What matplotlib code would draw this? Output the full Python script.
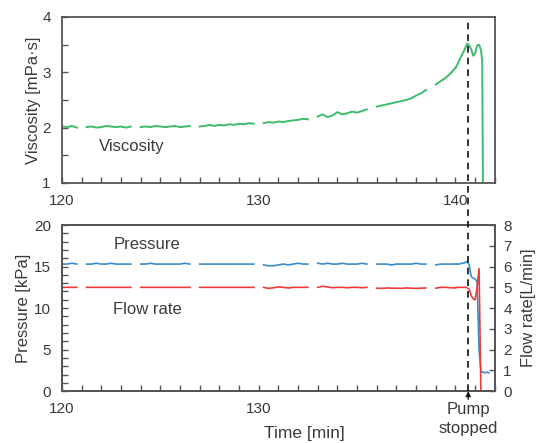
import numpy as np
import matplotlib
matplotlib.use("Agg")
import matplotlib.pyplot as plt
from matplotlib.lines import Line2D
from matplotlib.transforms import blended_transform_factory
from matplotlib.ticker import MultipleLocator

plt.rcParams['font.family'] = ['Liberation Sans', 'DejaVu Sans']

# ---- data (main segment, 0.25 min step from 120 to 140; None = data gap)
time_main = np.arange(120.0, 140.001, 0.25)
visc_main = [2.02, 2.01, 2.03, 2.00, None, 2.01, 2.02, 2.00, 2.01, 2.03,
             2.02, 2.01, 2.02, 2.00, 2.02, None, 2.01, 2.02, 2.01, 2.03,
             2.02, 2.01, 2.02, 2.03, 2.01, 2.02, 2.03, None, 2.02, 2.03,
             2.05, 2.03, 2.05, 2.04, 2.06, 2.05, 2.07, 2.06, 2.08, 2.07,
             None, 2.08, 2.10, 2.09, 2.11, 2.10, 2.12, 2.13, 2.14, 2.16,
             2.15, None, 2.20, 2.24, 2.19, 2.22, 2.28, 2.24, 2.26, 2.29,
             2.27, 2.30, 2.33, None, 2.38, 2.40, 2.42, 2.44, 2.46, 2.48,
             2.50, 2.53, 2.58, 2.62, 2.68, None, 2.78, 2.84, 2.90, 2.98,
             3.08]
pres_main = [15.3, 15.3, 15.4, 15.3, None, 15.3, 15.3, 15.4, 15.3, 15.3,
             15.4, 15.3, 15.3, 15.3, 15.3, None, 15.3, 15.3, 15.4, 15.3,
             15.3, 15.3, 15.3, 15.3, 15.3, 15.4, 15.3, None, 15.3, 15.3,
             15.3, 15.3, 15.3, 15.3, 15.3, 15.3, 15.3, 15.3, 15.3, 15.3,
             None, 15.2, 15.1, 15.1, 15.2, 15.3, 15.2, 15.3, 15.4, 15.3,
             15.3, None, 15.4, 15.3, 15.4, 15.3, 15.3, 15.4, 15.3, 15.3,
             15.3, 15.4, 15.3, None, 15.3, 15.3, 15.3, 15.2, 15.3, 15.3,
             15.3, 15.3, 15.4, 15.3, 15.3, None, 15.2, 15.3, 15.3, 15.3,
             15.3]
flow_main = [5.0, 5.0, 5.0, 5.0, None, 5.0, 5.0, 5.0, 5.0, 5.0,
             5.0, 5.0, 5.0, 5.0, 5.0, None, 5.0, 5.0, 5.0, 5.0,
             5.0, 5.0, 5.0, 5.0, 5.0, 5.0, 5.0, None, 5.0, 5.0,
             5.0, 5.0, 5.0, 5.0, 5.0, 5.0, 5.0, 5.0, 5.0, 5.0,
             None, 5.0, 4.95, 4.98, 5.02, 5.0, 4.97, 5.0, 5.0, 5.0,
             5.0, None, 5.0, 5.05, 5.02, 4.98, 5.0, 5.0, 4.98, 5.0,
             5.0, 4.98, 5.0, None, 4.96, 4.95, 4.97, 4.96, 4.96, 4.95,
             4.97, 4.96, 4.95, 4.96, 4.97, None, 4.96, 5.0, 5.0, 4.98,
             4.98]

# ---- data (transient segment near pump stop)
time_end = [140.0, 140.1, 140.2, 140.3, 140.4, 140.5, 140.6, 140.7, 140.8,
            140.9, 141.0, 141.1, 141.2, 141.3, 141.36, 141.4, 141.5, 141.6, 141.7]
visc_end = [3.08, 3.14, 3.22, 3.30, 3.36, 3.44, 3.52, 3.48, 3.42,
            3.30, 3.34, 3.48, 3.50, 3.40, 3.20, 0.8, None, None, None]
pres_end = [15.3, 15.3, 15.3, 15.4, 15.4, 15.5, 15.6, 15.2, 13.8,
            13.6, 13.5, 13.2, 5.0, 2.4, 2.3, 2.3, 2.2, 2.3, 2.2]
flow_end = [4.98, 5.0, 5.0, 5.0, 5.0, 5.0, 4.98, 4.9, 4.6,
            4.45, 4.4, 5.0, 5.9, -0.5, None, None, None, None, None]

pump_stop_time = 140.65

def arr(v):
    return np.array([np.nan if x is None else x for x in v], dtype=float)

GREEN = '#3dbb6e'
BLUE = '#3a8ccc'
RED = '#f03a3a'
TXT = '#3a3a3a'
SPINE = '#555555'

fig = plt.figure(figsize=(5.39, 4.43), dpi=100)
ax1 = fig.add_axes([0.115, 0.587, 0.803, 0.3747])
ax2 = fig.add_axes([0.115, 0.117, 0.803, 0.375])
ax3 = ax2.twinx()

# Viscosity
ax1.plot(time_main, arr(visc_main), color=GREEN, lw=1.4)
ax1.plot(time_end, arr(visc_end), color=GREEN, lw=1.4)
ax1.set_xlim(120, 142)
ax1.set_ylim(1, 4)
ax1.set_ylabel('Viscosity [mPa·s]', fontsize=12, color=TXT, labelpad=1)
ax1.text(121.9, 1.65, 'Viscosity', fontsize=12, color=TXT, va='center')

# Pressure / flow
ax2.plot(time_main, arr(pres_main), color=BLUE, lw=1.2)
ax2.plot(time_end, arr(pres_end), color=BLUE, lw=1.2)
ax3.plot(time_main, arr(flow_main), color=RED, lw=1.2)
ax3.plot(time_end, arr(flow_end), color=RED, lw=1.2)
ax2.set_xlim(120, 142)
ax2.set_ylim(0, 20)
ax3.set_ylim(0, 8)
ax2.set_ylabel('Pressure [kPa]', fontsize=12, color=TXT, labelpad=2)
ax3.set_ylabel('Flow rate[L/min]', fontsize=12, color=TXT, labelpad=7)
ax2.set_xlabel('Time [min]', fontsize=12.5, color=TXT)
ax2.xaxis.set_label_coords(0.56, -0.21)
ax2.text(122.6, 17.6, 'Pressure', fontsize=12, color=TXT, va='center')
ax2.text(122.6, 9.8, 'Flow rate', fontsize=12, color=TXT, va='center')

# ticks
for ax in (ax1, ax2, ax3):
    for s in ax.spines.values():
        s.set_color(SPINE)
        s.set_linewidth(1.3)
    ax.tick_params(direction='in', colors=SPINE, labelcolor=TXT, labelsize=11,
                   length=4, width=1)
    ax.tick_params(which='minor', direction='in', colors=SPINE, length=4, width=1)

ax1.set_xticks([120, 130, 140])
ax1.xaxis.set_minor_locator(MultipleLocator(1))
ax1.set_yticks([1, 2, 3, 4])
ax1.yaxis.set_minor_locator(MultipleLocator(0.5))
ax1.tick_params(axis='x', pad=8)
ax1.tick_params(axis='y', pad=8)

ax2.set_xticks([120, 130])
ax2.xaxis.set_minor_locator(MultipleLocator(1))
ax2.set_yticks([0, 5, 10, 15, 20])
ax2.yaxis.set_minor_locator(MultipleLocator(1))
ax2.tick_params(axis='x', pad=8)
ax2.tick_params(axis='y', pad=8)
ax3.set_yticks(range(0, 9))
ax3.tick_params(axis='y', pad=6)

# dashed pump-stop line spanning both panels
tr = blended_transform_factory(ax2.transData, fig.transFigure)
fig.add_artist(Line2D([pump_stop_time, pump_stop_time],
                      [1 - 391 / 443, 1 - 22 / 443], transform=tr,
                      color='#111111', lw=1.2, linestyle=(0, (4, 3))))

ax2.annotate('Pump\nstopped', xy=(pump_stop_time, 0),
             xytext=(pump_stop_time, -0.065), textcoords=('data', 'axes fraction'),
             xycoords='data', ha='center', va='top', fontsize=12, color=TXT,
             linespacing=1.3, annotation_clip=False,
             arrowprops=dict(arrowstyle='-|>', color='#111111', lw=1,
                             mutation_scale=7, shrinkA=0, shrinkB=0))

fig.savefig('out.png', dpi=100)
